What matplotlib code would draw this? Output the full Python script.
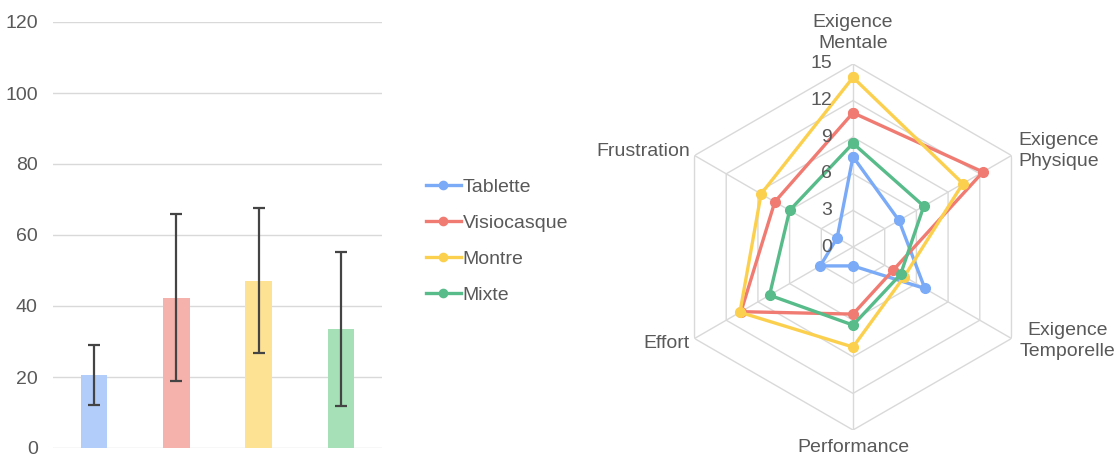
import matplotlib.pyplot as plt
import numpy as np

plt.rcParams['font.family'] = ['Liberation Sans', 'DejaVu Sans']

# Données
groupes = ['Tablette', 'Visiocasque', 'Montre', 'Mixte']
moyennes = [20.6, 42.3, 47.1, 33.5]
ecarts = [8.4, 23.5, 20.4, 21.7]

axes_radar = ['Exigence\nMentale', 'Exigence\nPhysique', 'Exigence\nTemporelle',
              'Performance', 'Effort', 'Frustration']
radar_tablette = [7.4, 4.35, 6.8, 1.55, 3.1, 1.5]
radar_visiocasque = [11.0, 12.3, 3.8, 5.5, 10.6, 7.4]
radar_montre = [13.9, 10.4, 4.85, 8.2, 10.7, 8.7]
radar_mixte = [8.5, 6.7, 4.5, 6.4, 7.9, 6.0]

couleurs_barres = ['#b3cdfa', '#f5b1ac', '#fde293', '#a5e0b6']
couleurs_lignes = ['#7baaf7', '#f07b72', '#fcd04f', '#57bb8a']
gris_texte = '#595959'
gris_grille = '#d9d9d9'
taille = 14

W, H = 1117, 457
fig = plt.figure(figsize=(W / 100, H / 100), dpi=100)

# Diagramme en barres
ax = fig.add_axes([53 / W, 1 - 448 / H, 329 / W, 426 / H])
x = np.arange(len(groupes))
ax.bar(x, moyennes, width=0.32, color=couleurs_barres, zorder=2)
ax.errorbar(x, moyennes, yerr=ecarts, fmt='none', ecolor='#444444',
            elinewidth=1.6, capsize=4, capthick=1.6, zorder=3)
ax.set_xlim(-0.5, 3.5)
ax.set_ylim(0, 120)
ax.set_yticks(range(0, 121, 20))
ax.set_xticks([])
ax.yaxis.grid(True, color=gris_grille, linewidth=1)
ax.set_axisbelow(True)
for s in ax.spines.values():
    s.set_visible(False)
ax.tick_params(axis='y', length=0, pad=11, labelsize=taille, labelcolor=gris_texte)

# Radar
R = 183
cx, cy = 853, 247
axr = fig.add_axes([(cx - R) / W, 1 - (cy + R) / H, 2 * R / W, 2 * R / H],
                   projection='polar')
axr.set_theta_offset(np.pi / 2)
axr.set_theta_direction(-1)
axr.set_ylim(0, 15)
axr.grid(False)
axr.spines['polar'].set_visible(False)
axr.set_xticks([])
axr.set_yticks([])
axr.patch.set_alpha(0)

n = len(axes_radar)
angles = np.linspace(0, 2 * np.pi, n, endpoint=False)
ang_fermes = np.concatenate([angles, angles[:1]])

for niveau in [3, 6, 9, 12, 15]:
    axr.plot(ang_fermes, [niveau] * (n + 1), color=gris_grille, lw=1, zorder=1)
for a in angles:
    axr.plot([a, a], [0, 15], color=gris_grille, lw=1, zorder=1)

series = [radar_tablette, radar_visiocasque, radar_montre, radar_mixte]
for nom, vals, c in zip(groupes, series, couleurs_lignes):
    v = list(vals) + [vals[0]]
    axr.plot(ang_fermes, v, color=c, lw=2.8, marker='o', markersize=7,
             label=nom, zorder=3, clip_on=False)

# Graduations du radar
for niveau in [0, 3, 6, 9, 12, 15]:
    yy = cy - niveau / 15 * R
    fig.text((cx - 21) / W, 1 - yy / H, str(niveau), ha='right', va='center',
             fontsize=taille, color=gris_texte)

# Étiquettes des axes
etiquettes = [
    (853, 33, 'center'),
    (1018, 151, 'left'),
    (1068, 341, 'center'),
    (853, 447, 'center'),
    (690, 343, 'right'),
    (690, 151, 'right'),
]
for (px, py, ha), txt in zip(etiquettes, axes_radar):
    fig.text(px / W, 1 - py / H, txt, ha=ha, va='center', fontsize=taille,
             color=gris_texte, linespacing=1.25)

# Légende
handles, labels = axr.get_legend_handles_labels()
for h in handles:
    h.set_linewidth(2.4)
leg = fig.legend(handles, labels, loc='center left',
                 bbox_to_anchor=(408 / W, 1 - 241 / H), frameon=False,
                 fontsize=taille, labelcolor=gris_texte, handlelength=1.8,
                 handletextpad=0.1, labelspacing=0.95, markerscale=0.85)

fig.savefig('out.png', dpi=100)
